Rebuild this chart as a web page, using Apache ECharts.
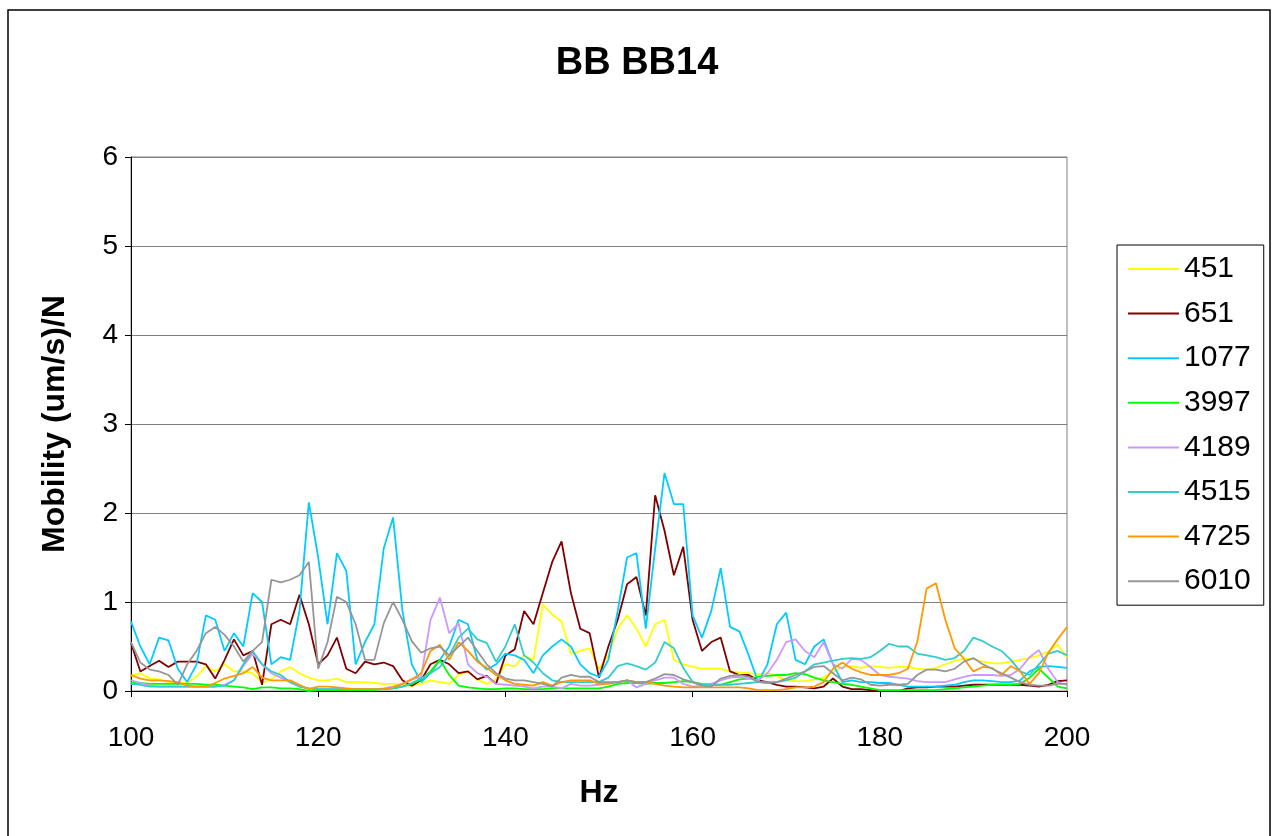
<!DOCTYPE html>
<html>
<head>
<meta charset="utf-8">
<script src="https://cdn.jsdelivr.net/npm/echarts@6/dist/echarts.min.js"></script>
<style>html,body{margin:0;padding:0;background:#fff}#c{width:1274px;height:836px}</style>
</head>
<body>
<div id="c"></div>
<script>
// Frequency (Hz)
var freq = [100,101,102,103,104,105,106,107,108,109,110,111,112,113,114,115,116,117,118,119,
120,121,122,123,124,125,126,127,128,129,130,131,132,133,134,135,136,137,138,139,
140,141,142,143,144,145,146,147,148,149,150,151,152,153,154,155,156,157,158,159,
160,161,162,163,164,165,166,167,168,169,170,171,172,173,174,175,176,177,178,179,
180,181,182,183,184,185,186,187,188,189,190,191,192,193,194,195,196,197,198,199,200];

var seriesNames = ['451','651','1077','3997','4189','4515','4725','6010'];
var seriesColors = ['#FFFF00','#800000','#00CCFF','#00FF00','#CC99FF','#33CCCC','#FF9900','#969696'];

var s451 = [0.17,0.2,0.14,0.13,0.1,0.09,0.09,0.16,0.28,0.22,
0.3,0.22,0.22,0.2,0.09,0.13,0.22,0.27,0.2,0.15,
0.12,0.12,0.14,0.1,0.1,0.1,0.09,0.08,0.08,0.07,
0.06,0.08,0.12,0.1,0.08,0.18,0.22,0.13,0.08,0.13,
0.3,0.28,0.4,0.35,0.97,0.86,0.78,0.42,0.45,0.48,
0.25,0.4,0.7,0.85,0.7,0.5,0.75,0.8,0.35,0.3,
0.27,0.25,0.25,0.25,0.22,0.21,0.2,0.19,0.2,0.17,
0.12,0.11,0.11,0.13,0.15,0.21,0.27,0.28,0.26,0.28,
0.27,0.26,0.27,0.27,0.25,0.24,0.26,0.3,0.34,0.36,
0.36,0.33,0.31,0.31,0.33,0.35,0.37,0.4,0.44,0.52,
0.38];

var s651 = [0.54,0.22,0.28,0.34,0.27,0.33,0.33,0.33,0.3,0.14,
0.35,0.58,0.4,0.45,0.07,0.75,0.8,0.75,1.08,0.75,
0.3,0.4,0.6,0.25,0.2,0.33,0.3,0.32,0.28,0.12,
0.06,0.12,0.3,0.35,0.3,0.2,0.22,0.13,0.17,0.08,
0.4,0.47,0.9,0.75,1.1,1.45,1.68,1.1,0.7,0.65,
0.15,0.5,0.8,1.2,1.28,0.85,2.2,1.8,1.3,1.62,
0.8,0.45,0.55,0.6,0.22,0.18,0.18,0.12,0.1,0.07,
0.05,0.05,0.04,0.03,0.05,0.14,0.05,0.02,0.02,0.01,
0,0,0,0.03,0.04,0.04,0.05,0.05,0.05,0.06,
0.07,0.07,0.07,0.07,0.07,0.07,0.06,0.05,0.07,0.11,
0.12];

var s1077 = [0.78,0.5,0.3,0.6,0.57,0.25,0.1,0.3,0.85,0.8,
0.45,0.65,0.5,1.1,1.0,0.3,0.38,0.35,0.9,2.12,
1.5,0.75,1.55,1.35,0.3,0.55,0.75,1.6,1.95,0.9,
0.3,0.1,0.2,0.35,0.5,0.8,0.75,0.35,0.24,0.3,
0.42,0.4,0.35,0.2,0.4,0.5,0.58,0.5,0.3,0.2,
0.16,0.35,0.9,1.5,1.55,0.7,1.6,2.45,2.1,2.1,
0.85,0.6,0.9,1.38,0.72,0.67,0.4,0.1,0.3,0.75,
0.88,0.35,0.3,0.5,0.58,0.3,0.1,0.12,0.1,0.1,
0.09,0.09,0.07,0.05,0.05,0.05,0.05,0.06,0.07,0.1,
0.12,0.12,0.11,0.1,0.1,0.12,0.22,0.27,0.28,0.27,
0.26];

var s3997 = [0.09,0.09,0.08,0.08,0.08,0.08,0.08,0.08,0.07,0.07,
0.06,0.05,0.04,0.02,0.04,0.04,0.03,0.03,0.02,0.0,
0.01,0.01,0.01,0.01,0.01,0.01,0.01,0.02,0.03,0.05,
0.08,0.13,0.22,0.35,0.18,0.06,0.04,0.03,0.02,0.02,
0.03,0.03,0.02,0.02,0.02,0.03,0.03,0.03,0.03,0.03,
0.03,0.05,0.08,0.09,0.09,0.08,0.09,0.09,0.1,0.11,
0.1,0.08,0.07,0.07,0.1,0.13,0.14,0.16,0.17,0.18,
0.18,0.2,0.19,0.15,0.12,0.1,0.08,0.07,0.05,0.03,
0.01,0.01,0.01,0.01,0.01,0.01,0.01,0.02,0.03,0.04,
0.05,0.06,0.07,0.07,0.07,0.08,0.15,0.25,0.15,0.05,
0.03];

var s4189 = [0.12,0.09,0.06,0.05,0.05,0.05,0.05,0.05,0.05,0.05,
0.07,0.12,0.28,0.42,0.3,0.2,0.15,0.1,0.05,0.03,
0.02,0.02,0.02,0.02,0.02,0.02,0.02,0.03,0.05,0.08,
0.13,0.16,0.8,1.05,0.65,0.76,0.3,0.2,0.16,0.08,
0.07,0.06,0.05,0.03,0.05,0.05,0.03,0.08,0.06,0.06,
0.07,0.09,0.1,0.12,0.04,0.08,0.12,0.15,0.15,0.08,
0.05,0.06,0.08,0.12,0.15,0.16,0.14,0.12,0.2,0.35,
0.55,0.58,0.45,0.38,0.55,0.3,0.25,0.36,0.35,0.27,
0.18,0.16,0.15,0.14,0.11,0.1,0.1,0.1,0.13,0.16,
0.18,0.18,0.18,0.17,0.18,0.25,0.38,0.46,0.25,0.1,
0.07];

var s4515 = [0.08,0.07,0.05,0.05,0.05,0.05,0.05,0.05,0.05,0.05,
0.06,0.12,0.3,0.45,0.3,0.22,0.18,0.1,0.05,0.03,
0.02,0.02,0.02,0.02,0.02,0.02,0.02,0.02,0.03,0.05,
0.09,0.14,0.2,0.27,0.4,0.6,0.7,0.58,0.54,0.33,
0.5,0.75,0.4,0.32,0.2,0.12,0.1,0.1,0.1,0.1,
0.1,0.15,0.28,0.31,0.28,0.24,0.32,0.55,0.48,0.26,
0.1,0.07,0.07,0.07,0.07,0.08,0.09,0.1,0.1,0.1,
0.12,0.15,0.22,0.3,0.32,0.34,0.36,0.37,0.36,0.38,
0.45,0.53,0.5,0.5,0.42,0.4,0.38,0.35,0.37,0.45,
0.6,0.56,0.5,0.45,0.35,0.22,0.18,0.3,0.42,0.45,
0.4];

var s4725 = [0.18,0.14,0.12,0.12,0.11,0.1,0.06,0.05,0.05,0.09,
0.14,0.17,0.2,0.27,0.15,0.12,0.12,0.12,0.07,0.02,
0.05,0.05,0.04,0.03,0.02,0.02,0.02,0.02,0.04,0.08,
0.13,0.2,0.45,0.52,0.35,0.55,0.45,0.33,0.26,0.18,
0.12,0.08,0.07,0.06,0.1,0.06,0.1,0.12,0.12,0.12,
0.08,0.08,0.1,0.12,0.1,0.1,0.08,0.06,0.05,0.04,
0.04,0.04,0.04,0.04,0.04,0.04,0.03,0.01,0.01,0.01,
0.02,0.04,0.04,0.05,0.1,0.25,0.32,0.25,0.21,0.18,
0.18,0.18,0.2,0.25,0.55,1.15,1.21,0.8,0.48,0.36,
0.22,0.27,0.26,0.18,0.28,0.22,0.08,0.2,0.43,0.58,
0.72];

var s6010 = [0.55,0.32,0.24,0.22,0.18,0.07,0.3,0.45,0.65,0.72,
0.63,0.5,0.33,0.45,0.55,1.25,1.22,1.25,1.3,1.45,
0.25,0.55,1.06,1.0,0.75,0.35,0.35,0.76,1.0,0.8,
0.56,0.43,0.48,0.5,0.4,0.5,0.6,0.45,0.3,0.2,
0.14,0.12,0.12,0.1,0.08,0.05,0.15,0.18,0.16,0.16,
0.1,0.1,0.1,0.12,0.1,0.1,0.14,0.19,0.18,0.13,
0.1,0.06,0.05,0.14,0.17,0.18,0.16,0.1,0.09,0.1,
0.14,0.18,0.22,0.27,0.28,0.2,0.12,0.15,0.13,0.07,
0.06,0.07,0.07,0.08,0.18,0.24,0.24,0.22,0.25,0.33,
0.37,0.3,0.25,0.2,0.15,0.1,0.07,0.06,0.06,0.08,
0.08];

var allValues = [s451, s651, s1077, s3997, s4189, s4515, s4725, s6010];
var xTicks = [100,120,140,160,180,200];
var yTicks = [0,1,2,3,4,5,6];

var FONT = '"Liberation Sans", Arial, sans-serif';

var series = seriesNames.map(function (name, i) {
  return {
    name: name,
    type: 'line',
    showSymbol: false,
    symbol: 'none',
    lineStyle: { color: seriesColors[i], width: 1.8 },
    itemStyle: { color: seriesColors[i] },
    data: freq.map(function (f, k) { return [f, allValues[i][k]]; }),
    z: 2 + i
  };
});

var chart = echarts.init(document.getElementById('c'), null, { renderer: 'canvas' });
chart.setOption({
  animation: false,
  backgroundColor: '#ffffff',
  graphic: [{
    type: 'rect',
    shape: { x: 8, y: 10, width: 1262, height: 840 },
    style: { fill: 'none', stroke: '#000', lineWidth: 1.5 },
    silent: true
  }],
  title: {
    text: 'BB BB14',
    left: 'center',
    top: 40,
    textStyle: { fontFamily: FONT, fontSize: 38, fontWeight: 'bold', color: '#000' }
  },
  grid: {
    left: 131, top: 157, width: 936, height: 534,
    show: true, borderColor: '#808080', borderWidth: 1, backgroundColor: '#fff'
  },
  legend: {
    orient: 'vertical',
    left: 1117, top: 245,
    padding: [9, 13, 9, 11],
    icon: 'rect',
    itemWidth: 51, itemHeight: 2, itemGap: 14.6,
    borderColor: '#000', borderWidth: 1,
    data: seriesNames,
    textStyle: { fontFamily: FONT, fontSize: 30, color: '#000', lineHeight: 30 }
  },
  xAxis: {
    type: 'value', min: 100, max: 200, interval: 20,
    name: 'Hz', nameLocation: 'middle', nameGap: 86,
    nameTextStyle: { fontFamily: FONT, fontSize: 32, fontWeight: 'bold', color: '#000' },
    axisLine: { show: true, lineStyle: { color: '#000', width: 1 } },
    axisTick: { show: true, inside: false, length: 6, lineStyle: { color: '#000' } },
    axisLabel: { fontFamily: FONT, fontSize: 28, color: '#000', margin: 33,
      formatter: function (v) { return xTicks.indexOf(v) >= 0 ? String(v) : ''; } },
    splitLine: { show: false }
  },
  yAxis: {
    type: 'value', min: 0, max: 6, interval: 1,
    name: 'Mobility (um/s)/N', nameLocation: 'middle', nameGap: 60,
    nameTextStyle: { fontFamily: FONT, fontSize: 32, fontWeight: 'bold', color: '#000' },
    axisLine: { show: true, lineStyle: { color: '#000', width: 1 } },
    axisTick: { show: true, inside: false, length: 6, lineStyle: { color: '#000' } },
    axisLabel: { fontFamily: FONT, fontSize: 28, color: '#000', margin: 13,
      formatter: function (v) { return yTicks.indexOf(v) >= 0 ? String(v) : ''; } },
    splitLine: { show: true, lineStyle: { color: '#808080', width: 1 } }
  },
  series: series
});
</script>
</body>
</html>
